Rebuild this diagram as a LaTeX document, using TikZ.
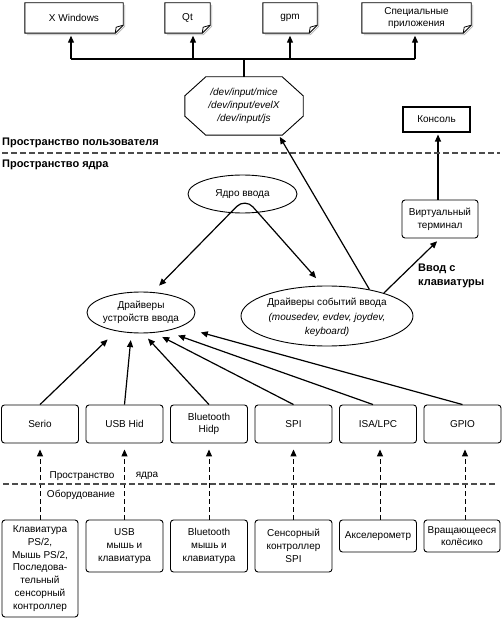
\documentclass[tikz,border=0pt]{standalone}
\usepackage{fontspec}
\setmainfont{Liberation Sans}
\usetikzlibrary{arrows.meta,calc,shapes.geometric}
\newcommand\drawnote[1]{%
  \draw[gray!55, line width=0.8pt] ([xshift=1.6pt,yshift=-2pt]#1.north east) -- ([xshift=1.6pt,yshift=7pt]#1.south east) -- ([xshift=-7pt,yshift=-1.6pt]#1.south east) -- ([xshift=2pt,yshift=-1.6pt]#1.south west);
  \draw[line width=0.9pt] (#1.north west) -- (#1.north east) -- ([yshift=8pt]#1.south east) -- ([xshift=-8pt]#1.south east) -- (#1.south west) -- cycle;
  \draw[line width=0.8pt] ([xshift=-8pt]#1.south east) -- ([xshift=-7pt,yshift=6pt]#1.south east) -- ([yshift=8pt]#1.south east);
}
\begin{document}
\begin{tikzpicture}[x=1pt,y=-1pt,
  >={Triangle[length=7pt,width=6pt]},
  every node/.style={font=\fontsize{10}{12.7}\selectfont, align=center, inner sep=0pt},
  arr/.style={line width=1.2pt, ->},
  dasharr/.style={line width=1pt, dash pattern=on 5pt off 3pt, ->},
  sep/.style={line width=1.1pt, dash pattern=on 6pt off 3pt, black!70},
  rbox/.style={draw, line width=0.9pt, rounded corners=3pt},
  ell/.style={draw, ellipse, line width=0.9pt},
  notebox/.style={minimum height=30},
  lab/.style={font=\fontsize{11}{13}\selectfont\bfseries},
]
\useasboundingbox (0,0) rectangle (502,620);

% top applications
\node[notebox, minimum width=98] (xw) at (74,18) {X Windows};
\node[notebox, minimum width=45] (qt) at (187.5,18) {Qt};
\node[notebox, minimum width=54] (gpm) at (290,18) {gpm};
\node[notebox, minimum width=109] (spec) at (416.5,18) {Специальные\\приложения};
\foreach \n in {xw,qt,gpm,spec} {\drawnote{\n}}

% octagon
\node[minimum width=118, minimum height=58, font=\fontsize{10}{13}\selectfont\itshape] (oct) at (244,106) {/dev/input/mice\\/dev/input/evelX\\/dev/input/js};
\draw[line width=0.9pt] ([xshift=21pt]oct.north west) -- ([xshift=-21pt]oct.north east) -- ([yshift=-19pt]oct.north east) -- ([yshift=19pt]oct.south east) -- ([xshift=-21pt]oct.south east) -- ([xshift=21pt]oct.south west) -- ([yshift=19pt]oct.south west) -- ([yshift=-19pt]oct.north west) -- cycle;

\coordinate (bus) at (244,59);
\draw[line width=1.2pt] (oct.north) -- (bus);
\draw[line width=1.2pt] ([xshift=-3pt]xw.south |- bus) -- ([xshift=-1.5pt]spec.south |- bus);
\draw[arr, shorten >=2.5pt] ([xshift=-3pt]xw.south |- bus) -- ([xshift=-3pt]xw.south);
\draw[arr, shorten >=2.5pt] ([xshift=5.5pt]qt.south |- bus) -- ([xshift=5.5pt]qt.south);
\draw[arr, shorten >=2.5pt] (gpm.south |- bus) -- (gpm.south);
\draw[arr, shorten >=2.5pt] ([xshift=-1.5pt]spec.south |- bus) -- ([xshift=-1.5pt]spec.south);

% console and terminal
\node[draw, line width=1.1pt, minimum width=67, minimum height=25] (kons) at (436.5,119.5) {Консоль};
\node[rbox, minimum width=76, minimum height=38] (vt) at (440,219) {Виртуальный\\терминал};
\draw[arr, shorten >=2pt] ([xshift=-2pt]vt.north) -- ([xshift=-2pt]vt.north |- kons.south);

% separators
\node[lab, anchor=west] (ulab) at (2,143) {Пространство пользователя};
\node[lab, anchor=west] (klab) at (2,165) {Пространство ядра};
\draw[sep] (2,153) -- (500,153);

% core
\node[ell, minimum width=109, minimum height=38] (core) at (242.5,194) {Ядро ввода};
\node[ell, minimum width=108, minimum height=41] (devdrv) at (141,312.5) {};
\node (devtxt) at (devdrv.center) {Драйверы\\устройств ввода};
\node[ell, minimum width=172, minimum height=60] (evdrv) at (327,316) {};
\node[font=\fontsize{10}{14.5}\selectfont] (evtxt) at ([yshift=-1.5pt]evdrv.center) {Драйверы событий ввода\\\textit{(mousedev, evdev, joydev,}\\\textit{keyboard)}};

\coordinate (apex) at (245,198);
\draw[line width=1.2pt, <->, rounded corners=12pt, shorten <=9pt, shorten >=10pt] (devdrv.60) -- (apex) -- (evdrv.98);

\draw[arr, shorten >=2pt] (evdrv.32) -- (oct.-40);
\draw[arr, shorten >=4pt] (evdrv.22) -- (vt.south);
\node[font=\fontsize{11}{14}\selectfont\bfseries, align=left, anchor=west] (kbdlab) at (418,276) {Ввод с\\клавиатуры};

% kernel drivers
\node[rbox, minimum width=77, minimum height=38] (serio) at (40,424) {Serio};
\node[rbox, minimum width=77, minimum height=38] (usbhid) at (124.5,424) {USB Hid};
\node[rbox, minimum width=77, minimum height=38] (bthid) at (209,424) {Bluetooth\\Hidp};
\node[rbox, minimum width=77, minimum height=38] (spi) at (293.5,424) {SPI};
\node[rbox, minimum width=77, minimum height=38] (isa) at (378,424) {ISA/LPC};
\node[rbox, minimum width=77, minimum height=38] (gpio) at (462.5,424) {GPIO};

\draw[arr, shorten >=12pt] (serio.north) -- (devdrv.217);
\draw[arr, shorten >=7pt] (usbhid.north) -- (devdrv.245);
\draw[arr, shorten >=7pt] (bthid.north) -- (devdrv.276);
\draw[arr, shorten >=9pt] (spi.north) -- (devdrv.303);
\draw[arr, shorten >=13pt] ([xshift=-5pt]isa.north) -- (devdrv.323);
\draw[arr, shorten >=21pt] (gpio.north) -- (devdrv.340);

% hardware
\node[rbox, minimum width=76, minimum height=97] (hwkbd) at (40,568.5) {Клавиатура\\PS/2,\\Мышь PS/2,\\Последова-\\тельный\\сенсорный\\контроллер};
\node[rbox, minimum width=77, minimum height=52] (hwusb) at (124.5,546) {USB\\мышь и\\клавиатура};
\node[rbox, minimum width=77, minimum height=52] (hwbt) at (209,546) {Bluetooth\\мышь и\\клавиатура};
\node[rbox, minimum width=77, minimum height=52] (hwsens) at (293.5,546) {Сенсорный\\контроллер\\SPI};
\node[rbox, minimum width=77, minimum height=32] (hwacc) at (378,536) {Акселерометр};
\node[rbox, minimum width=76, minimum height=32] (hwwheel) at (462,536) {Вращающееся\\колёсико};

\draw[dasharr, shorten >=6pt] (hwkbd.north) -- (hwkbd.north |- serio.south);
\draw[dasharr, shorten >=6pt] (hwusb.north) -- (hwusb.north |- usbhid.south);
\draw[dasharr, shorten >=6pt] (hwbt.north) -- (hwbt.north |- bthid.south);
\draw[dasharr, shorten >=6pt] (hwsens.north) -- (hwsens.north |- spi.south);
\draw[dasharr, shorten >=6pt] ([xshift=2pt]hwacc.north) -- ([xshift=2pt]hwacc.north |- isa.south);
\draw[dasharr, shorten >=6pt] ([xshift=3pt]hwwheel.north) -- ([xshift=3pt]hwwheel.north |- gpio.south);

\draw[sep] (3,484) -- (497,484);
\node (kslab) at (82,476) {Пространство};
\node (kslab2) at (147,476) {ядра};
\node (hwlab) at (81,495) {Оборудование};
\end{tikzpicture}
\end{document}
